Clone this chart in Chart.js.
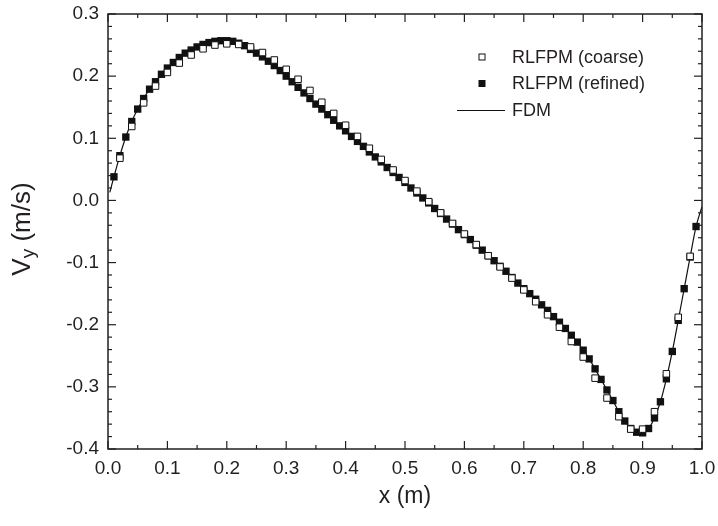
<!DOCTYPE html>
<html>
<head>
<meta charset="utf-8">
<script src="https://cdn.jsdelivr.net/npm/chart.js@4/dist/chart.umd.min.js"></script>
<style>
html,body{margin:0;padding:0;background:#fff;}
#wrap{width:718px;height:526px;position:relative;}
</style>
</head>
<body>
<div id="wrap"><canvas id="c" width="718" height="526"></canvas></div>
<script>
// ---------- data ----------
const xTickValues = [0.0,0.1,0.2,0.3,0.4,0.5,0.6,0.7,0.8,0.9,1.0];
const yTickValues = [-0.4,-0.3,-0.2,-0.1,0.0,0.1,0.2,0.3];

const refinedX = [0.01,0.02,0.03,0.04,0.05,0.06,0.07,0.08,0.09,0.10,
  0.11,0.12,0.13,0.14,0.15,0.16,0.17,0.18,0.19,0.20,
  0.21,0.22,0.23,0.24,0.25,0.26,0.27,0.28,0.29,0.30,
  0.31,0.32,0.33,0.34,0.35,0.36,0.37,0.38,0.39,0.40,
  0.41,0.42,0.43,0.44,0.45,0.46,0.47,0.48,0.49,0.50,
  0.51,0.52,0.53,0.54,0.55,0.56,0.57,0.58,0.59,0.60,
  0.61,0.62,0.63,0.64,0.65,0.66,0.67,0.68,0.69,0.70,
  0.71,0.72,0.73,0.74,0.75,0.76,0.77,0.78,0.79,0.80,
  0.81,0.82,0.83,0.84,0.85,0.86,0.87,0.88,0.89,0.90,
  0.91,0.92,0.93,0.94,0.95,0.96,0.97,0.98,0.99];
const refinedY = [0.038,0.072,0.102,0.127,0.147,0.164,0.179,0.191,0.203,0.213,
  0.222,0.230,0.237,0.242,0.247,0.251,0.254,0.256,0.257,0.257,
  0.256,0.253,0.249,0.243,0.237,0.231,0.224,0.217,0.209,0.200,
  0.191,0.182,0.173,0.164,0.155,0.147,0.138,0.129,0.120,0.112,
  0.103,0.095,0.087,0.078,0.070,0.062,0.053,0.045,0.037,0.029,
  0.020,0.012,0.004,-0.004,-0.013,-0.021,-0.030,-0.038,-0.047,-0.055,
  -0.063,-0.072,-0.080,-0.089,-0.097,-0.106,-0.114,-0.124,-0.133,-0.142,
  -0.150,-0.159,-0.168,-0.177,-0.187,-0.196,-0.206,-0.217,-0.228,-0.241,
  -0.255,-0.271,-0.288,-0.305,-0.322,-0.340,-0.355,-0.367,-0.373,-0.374,
  -0.367,-0.350,-0.324,-0.287,-0.243,-0.193,-0.142,-0.091,-0.042];

const coarseX = [0.02,0.04,0.06,0.08,0.10,0.12,0.14,0.16,0.18,0.20,
  0.22,0.24,0.26,0.28,0.30,0.32,0.34,0.36,0.38,0.40,
  0.42,0.44,0.46,0.48,0.50,0.52,0.54,0.56,0.58,0.60,
  0.62,0.64,0.66,0.68,0.70,0.72,0.74,0.76,0.78,0.80,
  0.82,0.84,0.86,0.88,0.90,0.92,0.94,0.96,0.98];
const coarseY = [0.068,0.119,0.157,0.184,0.206,0.221,0.234,0.244,0.250,0.252,
  0.251,0.247,0.238,0.226,0.211,0.195,0.177,0.158,0.140,0.121,
  0.103,0.084,0.066,0.049,0.032,0.015,-0.002,-0.020,-0.037,-0.054,
  -0.071,-0.089,-0.107,-0.125,-0.144,-0.163,-0.184,-0.204,-0.227,-0.252,
  -0.286,-0.318,-0.348,-0.368,-0.368,-0.340,-0.279,-0.188,-0.090];

const fdmX = [0.003,0.01,0.02,0.03,0.04,0.05,0.06,0.07,0.08,0.09,0.10,
  0.11,0.12,0.13,0.14,0.15,0.16,0.17,0.18,0.19,0.20,
  0.21,0.22,0.23,0.24,0.25,0.26,0.27,0.28,0.29,0.30,
  0.31,0.32,0.33,0.34,0.35,0.36,0.37,0.38,0.39,0.40,
  0.41,0.42,0.43,0.44,0.45,0.46,0.47,0.48,0.49,0.50,
  0.51,0.52,0.53,0.54,0.55,0.56,0.57,0.58,0.59,0.60,
  0.61,0.62,0.63,0.64,0.65,0.66,0.67,0.68,0.69,0.70,
  0.71,0.72,0.73,0.74,0.75,0.76,0.77,0.78,0.79,0.80,
  0.81,0.82,0.83,0.84,0.85,0.86,0.87,0.88,0.89,0.90,
  0.91,0.92,0.93,0.94,0.95,0.96,0.97,0.98,0.99,1.0];
const fdmY = [0.013,0.038,0.072,0.102,0.127,0.147,0.164,0.179,0.191,0.203,0.213,
  0.222,0.230,0.237,0.242,0.247,0.251,0.254,0.256,0.257,0.257,
  0.256,0.253,0.249,0.243,0.237,0.231,0.224,0.217,0.209,0.200,
  0.191,0.182,0.173,0.164,0.155,0.147,0.138,0.129,0.120,0.112,
  0.103,0.095,0.087,0.078,0.070,0.062,0.053,0.045,0.037,0.029,
  0.020,0.012,0.004,-0.004,-0.013,-0.021,-0.030,-0.038,-0.047,-0.055,
  -0.063,-0.072,-0.080,-0.089,-0.097,-0.106,-0.114,-0.124,-0.133,-0.142,
  -0.150,-0.159,-0.168,-0.177,-0.187,-0.196,-0.206,-0.217,-0.228,-0.241,
  -0.255,-0.271,-0.288,-0.305,-0.322,-0.340,-0.355,-0.367,-0.373,-0.374,
  -0.367,-0.350,-0.324,-0.287,-0.243,-0.193,-0.142,-0.091,-0.042,-0.010];

const seriesNames = ['RLFPM (coarse)','RLFPM (refined)','FDM'];
const xTitle = 'x (m)';
const yTitleMain = 'V', yTitleSub = 'y', yTitleRest = ' (m/s)';

// ---------- styling ----------
const INK = '#231f20';
const FONT = "'Liberation Sans', Arial, Helvetica, sans-serif";

const pts = (xs, ys) => xs.map((x, i) => ({x: x, y: ys[i]}));

const decor = {
  id: 'decor',
  afterDraw(chart) {
    const ctx = chart.ctx;
    const {left, right, top, bottom} = chart.chartArea;
    const xs = chart.scales.x, ys = chart.scales.y;
    ctx.save();
    ctx.strokeStyle = INK;
    ctx.lineWidth = 1.5;
    ctx.strokeRect(left, top, right - left, bottom - top);
    ctx.lineWidth = 1.2;
    const seg = (a, b, c, d) => { ctx.beginPath(); ctx.moveTo(a, b); ctx.lineTo(c, d); ctx.stroke(); };
    const MAJ = 8, MIN = 4;
    xTickValues.forEach((v, i) => {
      const p = xs.getPixelForValue(v);
      seg(p, bottom, p, bottom - MAJ);
      seg(p, top, p, top + MAJ);
      if (i < xTickValues.length - 1) {
        const m = xs.getPixelForValue((v + xTickValues[i + 1]) / 2);
        seg(m, bottom, m, bottom - MIN);
        seg(m, top, m, top + MIN);
      }
    });
    yTickValues.forEach((v, i) => {
      const p = ys.getPixelForValue(v);
      seg(left, p, left + MAJ, p);
      seg(right, p, right - MAJ, p);
      if (i < yTickValues.length - 1) {
        const nxt = yTickValues[i + 1];
        for (let k = 1; k < 5; k++) {
          const m = ys.getPixelForValue(v + (nxt - v) * k / 5);
          seg(left, m, left + MIN, m);
          seg(right, m, right - MIN, m);
        }
      }
    });

    // legend
    ctx.font = '18px ' + FONT;
    ctx.textBaseline = 'middle';
    ctx.textAlign = 'left';
    const lx = 482, tx = 512;
    const rows = [57, 83.5, 110.5];
    ctx.fillStyle = '#fff'; ctx.strokeStyle = '#111'; ctx.lineWidth = 1;
    ctx.fillRect(lx - 3, rows[0] - 3, 6, 6); ctx.strokeRect(lx - 3, rows[0] - 3, 6, 6);
    ctx.fillStyle = '#111';
    ctx.fillRect(lx - 3.5, rows[1] - 3.5, 7, 7);
    ctx.strokeStyle = '#111'; ctx.lineWidth = 1.2;
    seg(457, rows[2], 505, rows[2]);
    ctx.fillStyle = INK;
    seriesNames.forEach((n, i) => ctx.fillText(n, tx, rows[i] + 1));

    // x title
    ctx.font = '23px ' + FONT;
    ctx.textAlign = 'center';
    ctx.textBaseline = 'middle';
    ctx.fillText(xTitle, (left + right) / 2, 497);

    // y title with subscript
    ctx.save();
    ctx.translate(30, 229);
    ctx.rotate(-Math.PI / 2);
    ctx.textAlign = 'left';
    ctx.textBaseline = 'alphabetic';
    const big = '26px ' + FONT, small = '19px ' + FONT;
    ctx.font = big; const wV = ctx.measureText(yTitleMain).width; const wR = ctx.measureText(yTitleRest).width;
    ctx.font = small; const wS = ctx.measureText(yTitleSub).width;
    let sx = -(wV + wS + wR) / 2;
    ctx.font = big; ctx.fillText(yTitleMain, sx, 0); sx += wV;
    ctx.font = small; ctx.fillText(yTitleSub, sx, 4); sx += wS;
    ctx.font = big; ctx.fillText(yTitleRest, sx, 0);
    ctx.restore();

    ctx.restore();
  }
};

new Chart(document.getElementById('c'), {
  type: 'scatter',
  data: {
    datasets: [
      {
        label: seriesNames[0],
        data: pts(coarseX, coarseY),
        pointStyle: 'rect',
        pointRadius: 4.6,
        pointBackgroundColor: '#fff',
        pointBorderColor: '#111',
        pointBorderWidth: 1,
        showLine: false
      },
      {
        label: seriesNames[1],
        data: pts(refinedX, refinedY),
        pointStyle: 'rect',
        pointRadius: 5.2,
        pointBackgroundColor: '#111',
        pointBorderColor: '#111',
        pointBorderWidth: 0,
        showLine: false
      },
      {
        label: seriesNames[2],
        data: pts(fdmX, fdmY),
        showLine: true,
        pointRadius: 0,
        borderColor: '#111',
        borderWidth: 1.2,
        cubicInterpolationMode: 'monotone',
        fill: false
      }
    ]
  },
  options: {
    responsive: false,
    animation: false,
    devicePixelRatio: 1,
    layout: {padding: {top: 14, right: 16, left: 0, bottom: 0}},
    plugins: {legend: {display: false}, tooltip: {enabled: false}},
    scales: {
      x: {
        type: 'linear', min: 0, max: 1,
        afterBuildTicks: s => { s.ticks = xTickValues.map(v => ({value: v})); },
        afterFit: s => { s.height = 77; s.paddingLeft = 0; s.paddingRight = 0; },
        grid: {display: false, drawTicks: false},
        border: {display: false},
        ticks: {
          callback: v => v.toFixed(1),
          color: INK, font: {family: FONT, size: 19}, padding: 8,
          maxRotation: 0, autoSkip: false
        }
      },
      y: {
        type: 'linear', min: -0.4, max: 0.3,
        afterBuildTicks: s => { s.ticks = yTickValues.map(v => ({value: v})); },
        afterFit: s => { s.width = 108; s.paddingTop = 0; s.paddingBottom = 0; },
        grid: {display: false, drawTicks: false},
        border: {display: false},
        ticks: {
          callback: v => v.toFixed(1),
          color: INK, font: {family: FONT, size: 19}, padding: 9,
          autoSkip: false
        }
      }
    }
  },
  plugins: [decor]
});
</script>
</body>
</html>
